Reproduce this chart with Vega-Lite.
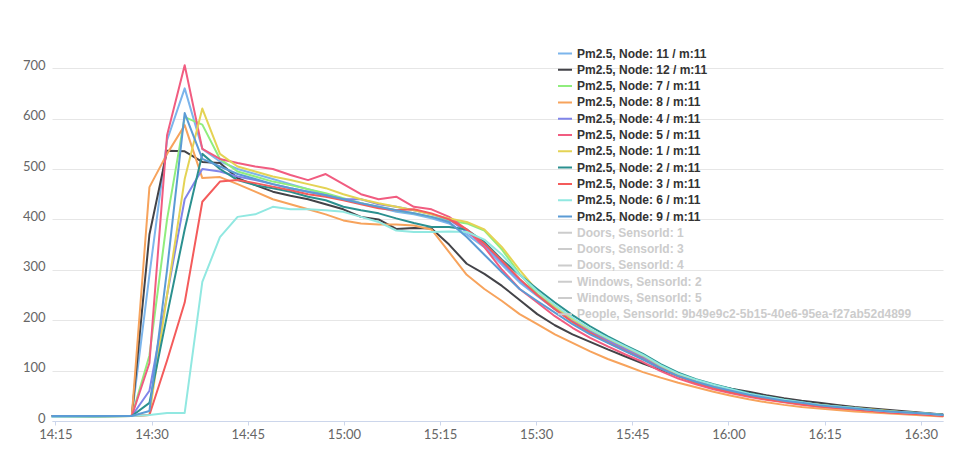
{
"$schema":"https://vega.github.io/schema/vega-lite/v6.json",
"width":891,"height":378,
"autosize":{"type":"none"},
"padding":{"left":52,"top":43,"right":17,"bottom":48},
"background":"white",
"config":{"view":{"stroke":null}},
"data":{"format":{"parse":{"t":"date:'%H:%M:%S'"}},"values":[
{"s":"N11","t":"14:14:30","v":9},{"s":"N11","t":"14:20:40","v":10},{"s":"N11","t":"14:26:55","v":10},{"s":"N11","t":"14:29:40","v":290},{"s":"N11","t":"14:32:25","v":557},{"s":"N11","t":"14:35:10","v":660},{"s":"N11","t":"14:37:55","v":540},{"s":"N11","t":"14:40:40","v":515},{"s":"N11","t":"14:43:25","v":500},{"s":"N11","t":"14:46:10","v":490},{"s":"N11","t":"14:48:55","v":480},{"s":"N11","t":"14:51:40","v":470},{"s":"N11","t":"14:54:25","v":460},{"s":"N11","t":"14:57:10","v":450},{"s":"N11","t":"14:59:55","v":440},{"s":"N11","t":"15:02:40","v":432},{"s":"N11","t":"15:05:25","v":424},{"s":"N11","t":"15:08:10","v":415},{"s":"N11","t":"15:10:55","v":410},{"s":"N11","t":"15:13:40","v":402},{"s":"N11","t":"15:16:25","v":392},{"s":"N11","t":"15:19:10","v":370},{"s":"N11","t":"15:21:55","v":345},{"s":"N11","t":"15:24:40","v":310},{"s":"N11","t":"15:27:25","v":275},{"s":"N11","t":"15:30:10","v":248},{"s":"N11","t":"15:32:55","v":222},{"s":"N11","t":"15:35:40","v":198},{"s":"N11","t":"15:38:25","v":178},{"s":"N11","t":"15:41:10","v":160},{"s":"N11","t":"15:43:55","v":142},{"s":"N11","t":"15:46:40","v":124},{"s":"N11","t":"15:49:25","v":106},{"s":"N11","t":"15:52:10","v":92},{"s":"N11","t":"15:54:55","v":80},{"s":"N11","t":"15:57:40","v":69},{"s":"N11","t":"16:00:25","v":60},{"s":"N11","t":"16:03:10","v":52},{"s":"N11","t":"16:05:55","v":45},{"s":"N11","t":"16:08:40","v":40},{"s":"N11","t":"16:11:25","v":35},{"s":"N11","t":"16:14:10","v":31},{"s":"N11","t":"16:16:55","v":28},{"s":"N11","t":"16:19:40","v":25},{"s":"N11","t":"16:22:25","v":22},{"s":"N11","t":"16:25:10","v":19},{"s":"N11","t":"16:27:55","v":17},{"s":"N11","t":"16:30:40","v":15},{"s":"N11","t":"16:33:25","v":13},
{"s":"N12","t":"14:14:30","v":10},{"s":"N12","t":"14:20:40","v":10},{"s":"N12","t":"14:26:55","v":10},{"s":"N12","t":"14:29:40","v":370},{"s":"N12","t":"14:32:25","v":536},{"s":"N12","t":"14:35:10","v":535},{"s":"N12","t":"14:37:55","v":514},{"s":"N12","t":"14:40:40","v":512},{"s":"N12","t":"14:43:25","v":482},{"s":"N12","t":"14:46:10","v":468},{"s":"N12","t":"14:48:55","v":455},{"s":"N12","t":"14:51:40","v":447},{"s":"N12","t":"14:54:25","v":440},{"s":"N12","t":"14:57:10","v":430},{"s":"N12","t":"14:59:55","v":420},{"s":"N12","t":"15:02:40","v":405},{"s":"N12","t":"15:05:25","v":400},{"s":"N12","t":"15:08:10","v":381},{"s":"N12","t":"15:10:55","v":383},{"s":"N12","t":"15:13:40","v":382},{"s":"N12","t":"15:16:25","v":350},{"s":"N12","t":"15:19:10","v":312},{"s":"N12","t":"15:21:55","v":292},{"s":"N12","t":"15:24:40","v":268},{"s":"N12","t":"15:27:25","v":240},{"s":"N12","t":"15:30:10","v":212},{"s":"N12","t":"15:32:55","v":190},{"s":"N12","t":"15:35:40","v":172},{"s":"N12","t":"15:38:25","v":157},{"s":"N12","t":"15:41:10","v":142},{"s":"N12","t":"15:43:55","v":128},{"s":"N12","t":"15:46:40","v":114},{"s":"N12","t":"15:49:25","v":101},{"s":"N12","t":"15:52:10","v":90},{"s":"N12","t":"15:54:55","v":80},{"s":"N12","t":"15:57:40","v":71},{"s":"N12","t":"16:00:25","v":64},{"s":"N12","t":"16:03:10","v":58},{"s":"N12","t":"16:05:55","v":51},{"s":"N12","t":"16:08:40","v":45},{"s":"N12","t":"16:11:25","v":40},{"s":"N12","t":"16:14:10","v":36},{"s":"N12","t":"16:16:55","v":32},{"s":"N12","t":"16:19:40","v":28},{"s":"N12","t":"16:22:25","v":25},{"s":"N12","t":"16:25:10","v":22},{"s":"N12","t":"16:27:55","v":19},{"s":"N12","t":"16:30:40","v":16},{"s":"N12","t":"16:33:25","v":13},
{"s":"N7","t":"14:14:30","v":9},{"s":"N7","t":"14:20:40","v":9},{"s":"N7","t":"14:26:55","v":10},{"s":"N7","t":"14:29:40","v":130},{"s":"N7","t":"14:32:25","v":400},{"s":"N7","t":"14:35:10","v":603},{"s":"N7","t":"14:37:55","v":588},{"s":"N7","t":"14:40:40","v":520},{"s":"N7","t":"14:43:25","v":495},{"s":"N7","t":"14:46:10","v":485},{"s":"N7","t":"14:48:55","v":475},{"s":"N7","t":"14:51:40","v":468},{"s":"N7","t":"14:54:25","v":460},{"s":"N7","t":"14:57:10","v":452},{"s":"N7","t":"14:59:55","v":442},{"s":"N7","t":"15:02:40","v":432},{"s":"N7","t":"15:05:25","v":425},{"s":"N7","t":"15:08:10","v":418},{"s":"N7","t":"15:10:55","v":412},{"s":"N7","t":"15:13:40","v":405},{"s":"N7","t":"15:16:25","v":398},{"s":"N7","t":"15:19:10","v":392},{"s":"N7","t":"15:21:55","v":378},{"s":"N7","t":"15:24:40","v":340},{"s":"N7","t":"15:27:25","v":292},{"s":"N7","t":"15:30:10","v":252},{"s":"N7","t":"15:32:55","v":225},{"s":"N7","t":"15:35:40","v":200},{"s":"N7","t":"15:38:25","v":180},{"s":"N7","t":"15:41:10","v":162},{"s":"N7","t":"15:43:55","v":145},{"s":"N7","t":"15:46:40","v":128},{"s":"N7","t":"15:49:25","v":109},{"s":"N7","t":"15:52:10","v":92},{"s":"N7","t":"15:54:55","v":80},{"s":"N7","t":"15:57:40","v":70},{"s":"N7","t":"16:00:25","v":61},{"s":"N7","t":"16:03:10","v":53},{"s":"N7","t":"16:05:55","v":46},{"s":"N7","t":"16:08:40","v":40},{"s":"N7","t":"16:11:25","v":36},{"s":"N7","t":"16:14:10","v":31},{"s":"N7","t":"16:16:55","v":28},{"s":"N7","t":"16:19:40","v":25},{"s":"N7","t":"16:22:25","v":22},{"s":"N7","t":"16:25:10","v":19},{"s":"N7","t":"16:27:55","v":17},{"s":"N7","t":"16:30:40","v":15},{"s":"N7","t":"16:33:25","v":12},
{"s":"N8","t":"14:14:30","v":10},{"s":"N8","t":"14:20:40","v":9},{"s":"N8","t":"14:26:55","v":10},{"s":"N8","t":"14:29:40","v":464},{"s":"N8","t":"14:32:25","v":530},{"s":"N8","t":"14:35:10","v":587},{"s":"N8","t":"14:37:55","v":482},{"s":"N8","t":"14:40:40","v":484},{"s":"N8","t":"14:43:25","v":470},{"s":"N8","t":"14:46:10","v":455},{"s":"N8","t":"14:48:55","v":440},{"s":"N8","t":"14:51:40","v":430},{"s":"N8","t":"14:54:25","v":420},{"s":"N8","t":"14:57:10","v":410},{"s":"N8","t":"14:59:55","v":398},{"s":"N8","t":"15:02:40","v":392},{"s":"N8","t":"15:05:25","v":390},{"s":"N8","t":"15:08:10","v":390},{"s":"N8","t":"15:10:55","v":388},{"s":"N8","t":"15:13:40","v":380},{"s":"N8","t":"15:16:25","v":335},{"s":"N8","t":"15:19:10","v":290},{"s":"N8","t":"15:21:55","v":262},{"s":"N8","t":"15:24:40","v":238},{"s":"N8","t":"15:27:25","v":212},{"s":"N8","t":"15:30:10","v":192},{"s":"N8","t":"15:32:55","v":172},{"s":"N8","t":"15:35:40","v":155},{"s":"N8","t":"15:38:25","v":138},{"s":"N8","t":"15:41:10","v":123},{"s":"N8","t":"15:43:55","v":110},{"s":"N8","t":"15:46:40","v":97},{"s":"N8","t":"15:49:25","v":86},{"s":"N8","t":"15:52:10","v":76},{"s":"N8","t":"15:54:55","v":67},{"s":"N8","t":"15:57:40","v":58},{"s":"N8","t":"16:00:25","v":50},{"s":"N8","t":"16:03:10","v":43},{"s":"N8","t":"16:05:55","v":37},{"s":"N8","t":"16:08:40","v":32},{"s":"N8","t":"16:11:25","v":28},{"s":"N8","t":"16:14:10","v":25},{"s":"N8","t":"16:16:55","v":22},{"s":"N8","t":"16:19:40","v":19},{"s":"N8","t":"16:22:25","v":17},{"s":"N8","t":"16:25:10","v":15},{"s":"N8","t":"16:27:55","v":13},{"s":"N8","t":"16:30:40","v":11},{"s":"N8","t":"16:33:25","v":9},
{"s":"N4","t":"14:14:30","v":9},{"s":"N4","t":"14:20:40","v":10},{"s":"N4","t":"14:26:55","v":10},{"s":"N4","t":"14:29:40","v":60},{"s":"N4","t":"14:32:25","v":250},{"s":"N4","t":"14:35:10","v":440},{"s":"N4","t":"14:37:55","v":500},{"s":"N4","t":"14:40:40","v":495},{"s":"N4","t":"14:43:25","v":485},{"s":"N4","t":"14:46:10","v":478},{"s":"N4","t":"14:48:55","v":470},{"s":"N4","t":"14:51:40","v":462},{"s":"N4","t":"14:54:25","v":455},{"s":"N4","t":"14:57:10","v":448},{"s":"N4","t":"14:59:55","v":440},{"s":"N4","t":"15:02:40","v":440},{"s":"N4","t":"15:05:25","v":430},{"s":"N4","t":"15:08:10","v":425},{"s":"N4","t":"15:10:55","v":418},{"s":"N4","t":"15:13:40","v":410},{"s":"N4","t":"15:16:25","v":400},{"s":"N4","t":"15:19:10","v":375},{"s":"N4","t":"15:21:55","v":350},{"s":"N4","t":"15:24:40","v":315},{"s":"N4","t":"15:27:25","v":280},{"s":"N4","t":"15:30:10","v":250},{"s":"N4","t":"15:32:55","v":222},{"s":"N4","t":"15:35:40","v":198},{"s":"N4","t":"15:38:25","v":178},{"s":"N4","t":"15:41:10","v":160},{"s":"N4","t":"15:43:55","v":143},{"s":"N4","t":"15:46:40","v":127},{"s":"N4","t":"15:49:25","v":108},{"s":"N4","t":"15:52:10","v":91},{"s":"N4","t":"15:54:55","v":79},{"s":"N4","t":"15:57:40","v":69},{"s":"N4","t":"16:00:25","v":60},{"s":"N4","t":"16:03:10","v":52},{"s":"N4","t":"16:05:55","v":45},{"s":"N4","t":"16:08:40","v":40},{"s":"N4","t":"16:11:25","v":35},{"s":"N4","t":"16:14:10","v":31},{"s":"N4","t":"16:16:55","v":28},{"s":"N4","t":"16:19:40","v":25},{"s":"N4","t":"16:22:25","v":22},{"s":"N4","t":"16:25:10","v":19},{"s":"N4","t":"16:27:55","v":16},{"s":"N4","t":"16:30:40","v":14},{"s":"N4","t":"16:33:25","v":11},
{"s":"N5","t":"14:14:30","v":10},{"s":"N5","t":"14:20:40","v":10},{"s":"N5","t":"14:26:55","v":10},{"s":"N5","t":"14:29:40","v":115},{"s":"N5","t":"14:32:25","v":567},{"s":"N5","t":"14:35:10","v":706},{"s":"N5","t":"14:37:55","v":540},{"s":"N5","t":"14:40:40","v":520},{"s":"N5","t":"14:43:25","v":512},{"s":"N5","t":"14:46:10","v":505},{"s":"N5","t":"14:48:55","v":500},{"s":"N5","t":"14:51:40","v":488},{"s":"N5","t":"14:54:25","v":478},{"s":"N5","t":"14:57:10","v":490},{"s":"N5","t":"14:59:55","v":470},{"s":"N5","t":"15:02:40","v":450},{"s":"N5","t":"15:05:25","v":440},{"s":"N5","t":"15:08:10","v":445},{"s":"N5","t":"15:10:55","v":425},{"s":"N5","t":"15:13:40","v":420},{"s":"N5","t":"15:16:25","v":405},{"s":"N5","t":"15:19:10","v":380},{"s":"N5","t":"15:21:55","v":345},{"s":"N5","t":"15:24:40","v":300},{"s":"N5","t":"15:27:25","v":262},{"s":"N5","t":"15:30:10","v":235},{"s":"N5","t":"15:32:55","v":208},{"s":"N5","t":"15:35:40","v":185},{"s":"N5","t":"15:38:25","v":165},{"s":"N5","t":"15:41:10","v":148},{"s":"N5","t":"15:43:55","v":132},{"s":"N5","t":"15:46:40","v":117},{"s":"N5","t":"15:49:25","v":99},{"s":"N5","t":"15:52:10","v":84},{"s":"N5","t":"15:54:55","v":73},{"s":"N5","t":"15:57:40","v":63},{"s":"N5","t":"16:00:25","v":55},{"s":"N5","t":"16:03:10","v":48},{"s":"N5","t":"16:05:55","v":42},{"s":"N5","t":"16:08:40","v":37},{"s":"N5","t":"16:11:25","v":32},{"s":"N5","t":"16:14:10","v":29},{"s":"N5","t":"16:16:55","v":26},{"s":"N5","t":"16:19:40","v":23},{"s":"N5","t":"16:22:25","v":20},{"s":"N5","t":"16:25:10","v":17},{"s":"N5","t":"16:27:55","v":15},{"s":"N5","t":"16:30:40","v":13},{"s":"N5","t":"16:33:25","v":11},
{"s":"N1","t":"14:14:30","v":10},{"s":"N1","t":"14:20:40","v":10},{"s":"N1","t":"14:26:55","v":10},{"s":"N1","t":"14:29:40","v":12},{"s":"N1","t":"14:32:25","v":250},{"s":"N1","t":"14:35:10","v":480},{"s":"N1","t":"14:37:55","v":620},{"s":"N1","t":"14:40:40","v":530},{"s":"N1","t":"14:43:25","v":505},{"s":"N1","t":"14:46:10","v":495},{"s":"N1","t":"14:48:55","v":485},{"s":"N1","t":"14:51:40","v":478},{"s":"N1","t":"14:54:25","v":470},{"s":"N1","t":"14:57:10","v":462},{"s":"N1","t":"14:59:55","v":450},{"s":"N1","t":"15:02:40","v":440},{"s":"N1","t":"15:05:25","v":432},{"s":"N1","t":"15:08:10","v":425},{"s":"N1","t":"15:10:55","v":418},{"s":"N1","t":"15:13:40","v":410},{"s":"N1","t":"15:16:25","v":402},{"s":"N1","t":"15:19:10","v":395},{"s":"N1","t":"15:21:55","v":380},{"s":"N1","t":"15:24:40","v":345},{"s":"N1","t":"15:27:25","v":300},{"s":"N1","t":"15:30:10","v":258},{"s":"N1","t":"15:32:55","v":228},{"s":"N1","t":"15:35:40","v":202},{"s":"N1","t":"15:38:25","v":182},{"s":"N1","t":"15:41:10","v":164},{"s":"N1","t":"15:43:55","v":147},{"s":"N1","t":"15:46:40","v":130},{"s":"N1","t":"15:49:25","v":110},{"s":"N1","t":"15:52:10","v":93},{"s":"N1","t":"15:54:55","v":81},{"s":"N1","t":"15:57:40","v":71},{"s":"N1","t":"16:00:25","v":62},{"s":"N1","t":"16:03:10","v":54},{"s":"N1","t":"16:05:55","v":47},{"s":"N1","t":"16:08:40","v":41},{"s":"N1","t":"16:11:25","v":36},{"s":"N1","t":"16:14:10","v":32},{"s":"N1","t":"16:16:55","v":29},{"s":"N1","t":"16:19:40","v":26},{"s":"N1","t":"16:22:25","v":23},{"s":"N1","t":"16:25:10","v":20},{"s":"N1","t":"16:27:55","v":17},{"s":"N1","t":"16:30:40","v":15},{"s":"N1","t":"16:33:25","v":12},
{"s":"N2","t":"14:14:30","v":10},{"s":"N2","t":"14:20:40","v":9},{"s":"N2","t":"14:26:55","v":10},{"s":"N2","t":"14:29:40","v":36},{"s":"N2","t":"14:32:25","v":210},{"s":"N2","t":"14:35:10","v":380},{"s":"N2","t":"14:37:55","v":530},{"s":"N2","t":"14:40:40","v":500},{"s":"N2","t":"14:43:25","v":478},{"s":"N2","t":"14:46:10","v":468},{"s":"N2","t":"14:48:55","v":462},{"s":"N2","t":"14:51:40","v":455},{"s":"N2","t":"14:54:25","v":445},{"s":"N2","t":"14:57:10","v":438},{"s":"N2","t":"14:59:55","v":425},{"s":"N2","t":"15:02:40","v":418},{"s":"N2","t":"15:05:25","v":412},{"s":"N2","t":"15:08:10","v":402},{"s":"N2","t":"15:10:55","v":393},{"s":"N2","t":"15:13:40","v":385},{"s":"N2","t":"15:16:25","v":385},{"s":"N2","t":"15:19:10","v":380},{"s":"N2","t":"15:21:55","v":355},{"s":"N2","t":"15:24:40","v":320},{"s":"N2","t":"15:27:25","v":290},{"s":"N2","t":"15:30:10","v":262},{"s":"N2","t":"15:32:55","v":235},{"s":"N2","t":"15:35:40","v":210},{"s":"N2","t":"15:38:25","v":188},{"s":"N2","t":"15:41:10","v":168},{"s":"N2","t":"15:43:55","v":150},{"s":"N2","t":"15:46:40","v":133},{"s":"N2","t":"15:49:25","v":113},{"s":"N2","t":"15:52:10","v":96},{"s":"N2","t":"15:54:55","v":83},{"s":"N2","t":"15:57:40","v":73},{"s":"N2","t":"16:00:25","v":64},{"s":"N2","t":"16:03:10","v":55},{"s":"N2","t":"16:05:55","v":48},{"s":"N2","t":"16:08:40","v":42},{"s":"N2","t":"16:11:25","v":37},{"s":"N2","t":"16:14:10","v":32},{"s":"N2","t":"16:16:55","v":29},{"s":"N2","t":"16:19:40","v":26},{"s":"N2","t":"16:22:25","v":22},{"s":"N2","t":"16:25:10","v":19},{"s":"N2","t":"16:27:55","v":17},{"s":"N2","t":"16:30:40","v":15},{"s":"N2","t":"16:33:25","v":12},
{"s":"N3","t":"14:14:30","v":10},{"s":"N3","t":"14:20:40","v":10},{"s":"N3","t":"14:26:55","v":10},{"s":"N3","t":"14:29:40","v":12},{"s":"N3","t":"14:32:25","v":120},{"s":"N3","t":"14:35:10","v":235},{"s":"N3","t":"14:37:55","v":435},{"s":"N3","t":"14:40:40","v":475},{"s":"N3","t":"14:43:25","v":478},{"s":"N3","t":"14:46:10","v":472},{"s":"N3","t":"14:48:55","v":465},{"s":"N3","t":"14:51:40","v":458},{"s":"N3","t":"14:54:25","v":450},{"s":"N3","t":"14:57:10","v":445},{"s":"N3","t":"14:59:55","v":438},{"s":"N3","t":"15:02:40","v":430},{"s":"N3","t":"15:05:25","v":422},{"s":"N3","t":"15:08:10","v":418},{"s":"N3","t":"15:10:55","v":420},{"s":"N3","t":"15:13:40","v":412},{"s":"N3","t":"15:16:25","v":400},{"s":"N3","t":"15:19:10","v":380},{"s":"N3","t":"15:21:55","v":352},{"s":"N3","t":"15:24:40","v":318},{"s":"N3","t":"15:27:25","v":282},{"s":"N3","t":"15:30:10","v":250},{"s":"N3","t":"15:32:55","v":222},{"s":"N3","t":"15:35:40","v":196},{"s":"N3","t":"15:38:25","v":175},{"s":"N3","t":"15:41:10","v":156},{"s":"N3","t":"15:43:55","v":139},{"s":"N3","t":"15:46:40","v":123},{"s":"N3","t":"15:49:25","v":104},{"s":"N3","t":"15:52:10","v":88},{"s":"N3","t":"15:54:55","v":76},{"s":"N3","t":"15:57:40","v":66},{"s":"N3","t":"16:00:25","v":57},{"s":"N3","t":"16:03:10","v":50},{"s":"N3","t":"16:05:55","v":43},{"s":"N3","t":"16:08:40","v":38},{"s":"N3","t":"16:11:25","v":33},{"s":"N3","t":"16:14:10","v":29},{"s":"N3","t":"16:16:55","v":26},{"s":"N3","t":"16:19:40","v":23},{"s":"N3","t":"16:22:25","v":20},{"s":"N3","t":"16:25:10","v":17},{"s":"N3","t":"16:27:55","v":15},{"s":"N3","t":"16:30:40","v":13},{"s":"N3","t":"16:33:25","v":10},
{"s":"N6","t":"14:14:30","v":9},{"s":"N6","t":"14:20:40","v":9},{"s":"N6","t":"14:26:55","v":10},{"s":"N6","t":"14:29:40","v":12},{"s":"N6","t":"14:32:25","v":16},{"s":"N6","t":"14:35:10","v":16},{"s":"N6","t":"14:37:55","v":276},{"s":"N6","t":"14:40:40","v":365},{"s":"N6","t":"14:43:25","v":405},{"s":"N6","t":"14:46:10","v":410},{"s":"N6","t":"14:48:55","v":425},{"s":"N6","t":"14:51:40","v":420},{"s":"N6","t":"14:54:25","v":420},{"s":"N6","t":"14:57:10","v":418},{"s":"N6","t":"14:59:55","v":415},{"s":"N6","t":"15:02:40","v":405},{"s":"N6","t":"15:05:25","v":395},{"s":"N6","t":"15:08:10","v":378},{"s":"N6","t":"15:10:55","v":375},{"s":"N6","t":"15:13:40","v":375},{"s":"N6","t":"15:16:25","v":376},{"s":"N6","t":"15:19:10","v":375},{"s":"N6","t":"15:21:55","v":360},{"s":"N6","t":"15:24:40","v":330},{"s":"N6","t":"15:27:25","v":290},{"s":"N6","t":"15:30:10","v":258},{"s":"N6","t":"15:32:55","v":230},{"s":"N6","t":"15:35:40","v":205},{"s":"N6","t":"15:38:25","v":183},{"s":"N6","t":"15:41:10","v":165},{"s":"N6","t":"15:43:55","v":148},{"s":"N6","t":"15:46:40","v":131},{"s":"N6","t":"15:49:25","v":111},{"s":"N6","t":"15:52:10","v":94},{"s":"N6","t":"15:54:55","v":82},{"s":"N6","t":"15:57:40","v":72},{"s":"N6","t":"16:00:25","v":63},{"s":"N6","t":"16:03:10","v":54},{"s":"N6","t":"16:05:55","v":48},{"s":"N6","t":"16:08:40","v":42},{"s":"N6","t":"16:11:25","v":37},{"s":"N6","t":"16:14:10","v":32},{"s":"N6","t":"16:16:55","v":29},{"s":"N6","t":"16:19:40","v":26},{"s":"N6","t":"16:22:25","v":22},{"s":"N6","t":"16:25:10","v":19},{"s":"N6","t":"16:27:55","v":17},{"s":"N6","t":"16:30:40","v":15},{"s":"N6","t":"16:33:25","v":12},
{"s":"N9","t":"14:14:30","v":10},{"s":"N9","t":"14:20:40","v":10},{"s":"N9","t":"14:26:55","v":10},{"s":"N9","t":"14:29:40","v":20},{"s":"N9","t":"14:32:25","v":300},{"s":"N9","t":"14:35:10","v":611},{"s":"N9","t":"14:37:55","v":520},{"s":"N9","t":"14:40:40","v":505},{"s":"N9","t":"14:43:25","v":490},{"s":"N9","t":"14:46:10","v":480},{"s":"N9","t":"14:48:55","v":470},{"s":"N9","t":"14:51:40","v":462},{"s":"N9","t":"14:54:25","v":455},{"s":"N9","t":"14:57:10","v":448},{"s":"N9","t":"14:59:55","v":440},{"s":"N9","t":"15:02:40","v":432},{"s":"N9","t":"15:05:25","v":425},{"s":"N9","t":"15:08:10","v":418},{"s":"N9","t":"15:10:55","v":412},{"s":"N9","t":"15:13:40","v":405},{"s":"N9","t":"15:16:25","v":395},{"s":"N9","t":"15:19:10","v":365},{"s":"N9","t":"15:21:55","v":330},{"s":"N9","t":"15:24:40","v":295},{"s":"N9","t":"15:27:25","v":262},{"s":"N9","t":"15:30:10","v":238},{"s":"N9","t":"15:32:55","v":215},{"s":"N9","t":"15:35:40","v":192},{"s":"N9","t":"15:38:25","v":172},{"s":"N9","t":"15:41:10","v":155},{"s":"N9","t":"15:43:55","v":138},{"s":"N9","t":"15:46:40","v":122},{"s":"N9","t":"15:49:25","v":104},{"s":"N9","t":"15:52:10","v":89},{"s":"N9","t":"15:54:55","v":78},{"s":"N9","t":"15:57:40","v":68},{"s":"N9","t":"16:00:25","v":60},{"s":"N9","t":"16:03:10","v":52},{"s":"N9","t":"16:05:55","v":46},{"s":"N9","t":"16:08:40","v":40},{"s":"N9","t":"16:11:25","v":36},{"s":"N9","t":"16:14:10","v":31},{"s":"N9","t":"16:16:55","v":28},{"s":"N9","t":"16:19:40","v":25},{"s":"N9","t":"16:22:25","v":22},{"s":"N9","t":"16:25:10","v":19},{"s":"N9","t":"16:27:55","v":17},{"s":"N9","t":"16:30:40","v":15},{"s":"N9","t":"16:33:25","v":12}
]},
"mark":{"type":"line","strokeWidth":2,"strokeJoin":"round","strokeCap":"round"},
"encoding":{
"x":{"field":"t","type":"temporal",
"scale":{"domain":[{"year":1900,"month":1,"date":1,"hours":14,"minutes":14,"seconds":28},{"year":1900,"month":1,"date":1,"hours":16,"minutes":33,"seconds":28}]},
"axis":{"title":null,"format":"%H:%M","grid":false,
"values":[{"year":1900,"month":1,"date":1,"hours":14,"minutes":15},{"year":1900,"month":1,"date":1,"hours":14,"minutes":30},{"year":1900,"month":1,"date":1,"hours":14,"minutes":45},{"year":1900,"month":1,"date":1,"hours":15,"minutes":0},{"year":1900,"month":1,"date":1,"hours":15,"minutes":15},{"year":1900,"month":1,"date":1,"hours":15,"minutes":30},{"year":1900,"month":1,"date":1,"hours":15,"minutes":45},{"year":1900,"month":1,"date":1,"hours":16,"minutes":0},{"year":1900,"month":1,"date":1,"hours":16,"minutes":15},{"year":1900,"month":1,"date":1,"hours":16,"minutes":30}],
"domainColor":"#ccd6eb","tickColor":"#ccd6eb","tickSize":4,"labelPadding":3,
"labelFont":"Lato","labelFontSize":13,"labelColor":"#666666","labelFlush":false,"labelOverlap":false}},
"y":{"field":"v","type":"quantitative",
"scale":{"domain":[0,750],"nice":false},
"axis":{"title":null,"values":[0,100,200,300,400,500,600,700],"grid":true,"gridColor":"#e6e6e6","domain":false,"ticks":false,"labelPadding":7,
"labelFont":"Lato","labelFontSize":13,"labelColor":"#666666","labelBaseline":"alphabetic","labelOffset":1}},
"color":{"field":"s","type":"nominal",
"scale":{"domain":["N11","N12","N7","N8","N4","N5","N1","N2","N3","N6","N9","D1","D3","D4","W2","W5","P"],
"range":["#7cb5ec","#434348","#90ed7d","#f7a35c","#8085e9","#f15c80","#e4d354","#2b908f","#f45b5b","#91e8e1","#5b9bd5","#cccccc","#cccccc","#cccccc","#cccccc","#cccccc","#cccccc"]},
"legend":{"title":null,"orient":"none","legendX":505,"legendY":3.5,"padding":0,
"symbolType":"stroke","symbolSize":196,"symbolStrokeWidth":2,
"labelFont":"Liberation Sans","labelFontSize":12,"labelFontWeight":"bold","labelColor":"#333333","labelOffset":4,"labelLimit":600,
"rowPadding":2.3,"clipHeight":14,
"labelExpr":"datum.value=='D1'?'Doors, SensorId: 1':datum.value=='D3'?'Doors, SensorId: 3':datum.value=='D4'?'Doors, SensorId: 4':datum.value=='W2'?'Windows, SensorId: 2':datum.value=='W5'?'Windows, SensorId: 5':datum.value=='P'?'People, SensorId: 9b49e9c2-5b15-40e6-95ea-f27ab52d4899':'Pm2.5, Node: '+substring(datum.value,1)+' / m:11'",
"encode":{"labels":{"update":{"fill":[{"test":"indexof(datum.value,'N')===0","value":"#333333"},{"value":"#cccccc"}]}}}}}
}
}
